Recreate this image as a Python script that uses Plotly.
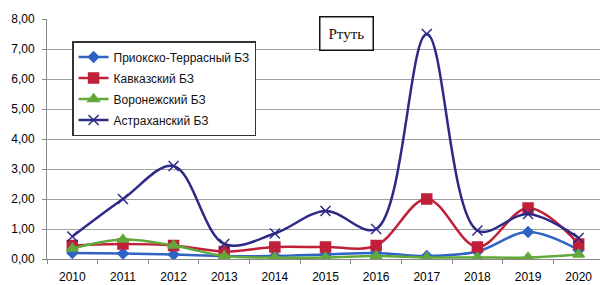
import plotly.graph_objects as go

years = ["2010", "2011", "2012", "2013", "2014", "2015", "2016", "2017", "2018", "2019", "2020"]
prioksko = [0.20, 0.18, 0.15, 0.10, 0.10, 0.15, 0.20, 0.10, 0.25, 0.90, 0.30]
kavkaz = [0.45, 0.50, 0.45, 0.25, 0.40, 0.40, 0.45, 2.00, 0.40, 1.70, 0.50]
voronezh = [0.35, 0.65, 0.45, 0.10, 0.05, 0.05, 0.10, 0.05, 0.05, 0.05, 0.15]
astrakhan = [0.75, 2.00, 3.10, 0.50, 0.85, 1.60, 1.00, 7.50, 0.95, 1.50, 0.70]
names = ["Приокско-Террасный БЗ", "Кавказский БЗ", "Воронежский БЗ", "Астраханский БЗ"]
yticks = [0, 1, 2, 3, 4, 5, 6, 7, 8]
ytext = ["0,00", "1,00", "2,00", "3,00", "4,00", "5,00", "6,00", "7,00", "8,00"]

series = [
    (prioksko, "#2f63c4", "diamond", 8),
    (kavkaz, "#c0203a", "square", 10),
    (voronezh, "#62a83a", "triangle-up", 10),
    (astrakhan, "#2c2a86", "x-thin-open", 10),
]

fig = go.Figure()
for i, (vals, col, sym, sz) in enumerate(series):
    fig.add_trace(go.Scatter(
        x=years, y=vals, name=names[i], mode="lines+markers",
        line=dict(color=col, width=2.5, shape="spline", smoothing=1.0),
        marker=dict(symbol=sym, size=sz, color=col, line=dict(color=col, width=1.5)),
        legendgroup=f"g{i}",
    ))

# page body has an 8px default margin, so the figure is sized/offset to compensate
fig.update_layout(
    width=600, height=277,
    margin=dict(l=39, r=4, t=11, b=26),
    paper_bgcolor="white", plot_bgcolor="white",
    font=dict(family="Liberation Sans", size=11, color="#222"),
    showlegend=True,
    legend=dict(
        x=0.045, y=0.908, xanchor="left", yanchor="top",
        bordercolor="#333", borderwidth=1.5, bgcolor="white",
        font=dict(family="Liberation Sans", size=12, color="#111"),
        tracegroupgap=2,
    ),
    xaxis=dict(
        type="category", range=[-0.5, 10.5], showgrid=False, automargin=False,
        showline=True, linecolor="#888", linewidth=1,
        ticks="outside", tickson="boundaries", ticklen=4, tickcolor="#888",
        ticklabelstandoff=7,
        tickfont=dict(family="Liberation Sans", size=12, color="#000"),
    ),
    yaxis=dict(
        range=[0, 8], tickvals=yticks, ticktext=ytext, automargin=False,
        showgrid=True, gridcolor="#a0a0a0", gridwidth=1.2,
        showline=True, linecolor="#888", linewidth=1,
        ticks="outside", ticklen=4, tickcolor="#888",
        ticklabelstandoff=5,
        tickfont=dict(family="Liberation Sans", size=12, color="#000"),
        zeroline=False,
    ),
    annotations=[dict(
        text="Ртуть", xref="paper", yref="paper", x=0.538, y=0.941,
        xanchor="center", yanchor="middle", showarrow=False,
        font=dict(family="Liberation Serif", size=15, color="#111"),
        bordercolor="#111", borderwidth=1.5, borderpad=8, bgcolor="white",
    )],
)

fig.write_html("out.html")
